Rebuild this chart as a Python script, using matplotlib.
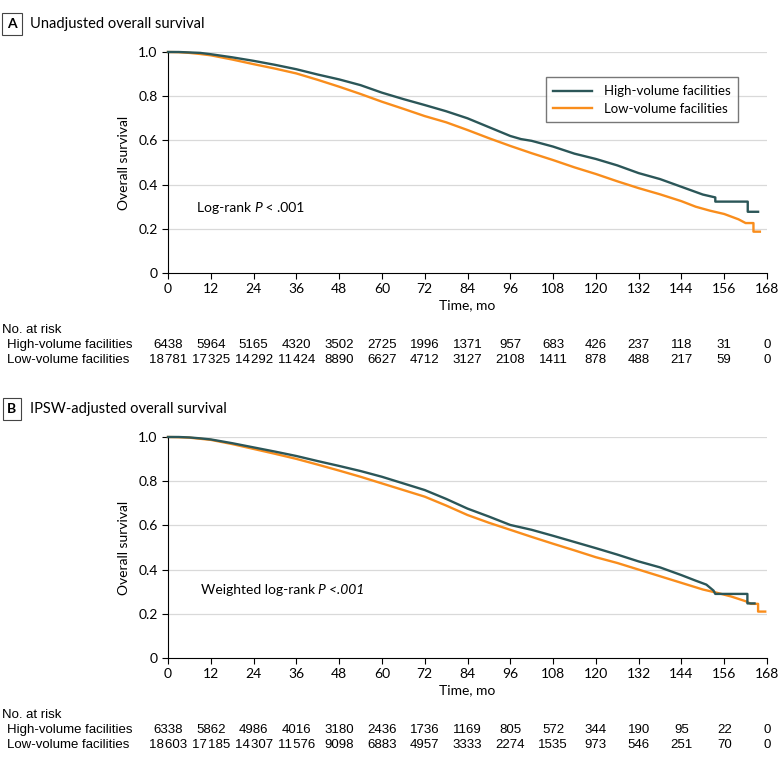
import matplotlib
matplotlib.use('Agg')
import matplotlib.pyplot as plt
from matplotlib.transforms import blended_transform_factory, offset_copy

plt.rcParams['font.family'] = ['Lato', 'DejaVu Sans']

# --- data ---
months = list(range(0, 169, 12))
series_names = ['High-volume facilities', 'Low-volume facilities']

# panel A, unadjusted KM curves
a_high_t = [0, 3, 6, 9, 12, 18, 24, 30, 36, 42, 48, 54, 60, 66, 72, 78, 84, 90, 96, 99, 102,
            108, 114, 120, 126, 132, 138, 144, 150, 153.5, 153.5, 162.6, 162.6, 165.5]
a_high_s = [1.0, 1.0, 0.998, 0.996, 0.99, 0.976, 0.96, 0.942, 0.922, 0.898, 0.876, 0.85, 0.816,
            0.787, 0.76, 0.732, 0.70, 0.66, 0.62, 0.606, 0.598, 0.572, 0.54, 0.516, 0.487, 0.452,
            0.425, 0.39, 0.355, 0.342, 0.323, 0.323, 0.277, 0.277]
a_low_t = [0, 3, 6, 9, 12, 18, 24, 30, 36, 42, 48, 54, 60, 66, 72, 78, 84, 90, 96, 102, 108,
           114, 120, 126, 132, 138, 144, 148, 152, 156, 160, 162, 164.2, 164.2, 166]
a_low_s = [1.0, 0.999, 0.996, 0.991, 0.985, 0.966, 0.945, 0.925, 0.903, 0.874, 0.843, 0.81,
           0.775, 0.743, 0.71, 0.682, 0.647, 0.61, 0.575, 0.542, 0.511, 0.478, 0.448, 0.415,
           0.384, 0.356, 0.325, 0.30, 0.282, 0.267, 0.243, 0.226, 0.226, 0.187, 0.187]

# panel B, IPSW-adjusted KM curves
b_high_t = [0, 3, 6, 9, 12, 18, 24, 30, 36, 42, 48, 54, 60, 66, 72, 78, 84, 90, 96, 102, 108,
            114, 120, 126, 132, 138, 144, 148, 151, 153, 153.5, 162.5, 162.5, 164.5]
b_high_s = [1.0, 1.0, 0.998, 0.994, 0.989, 0.972, 0.953, 0.934, 0.914, 0.891, 0.869, 0.846,
            0.82, 0.79, 0.76, 0.72, 0.676, 0.64, 0.602, 0.58, 0.553, 0.525, 0.497, 0.468, 0.437,
            0.41, 0.375, 0.35, 0.332, 0.305, 0.29, 0.29, 0.247, 0.247]
b_low_t = [0, 3, 6, 9, 12, 18, 24, 30, 36, 42, 48, 54, 60, 66, 72, 78, 84, 90, 96, 102, 108,
           114, 120, 126, 132, 138, 144, 150, 154, 158, 162, 163.5, 165.5, 165.5, 167.5]
b_low_s = [1.0, 0.999, 0.997, 0.992, 0.987, 0.968, 0.946, 0.924, 0.901, 0.875, 0.848, 0.82,
           0.79, 0.76, 0.73, 0.69, 0.647, 0.612, 0.58, 0.548, 0.517, 0.487, 0.456, 0.43, 0.40,
           0.37, 0.34, 0.31, 0.295, 0.278, 0.257, 0.245, 0.245, 0.21, 0.21]

# numbers at risk
a_risk_high = [6438, 5964, 5165, 4320, 3502, 2725, 1996, 1371, 957, 683, 426, 237, 118, 31, 0]
a_risk_low = [18781, 17325, 14292, 11424, 8890, 6627, 4712, 3127, 2108, 1411, 878, 488, 217, 59, 0]
b_risk_high = [6338, 5862, 4986, 4016, 3180, 2436, 1736, 1169, 805, 572, 344, 190, 95, 22, 0]
b_risk_low = [18603, 17185, 14307, 11576, 9098, 6883, 4957, 3333, 2274, 1535, 973, 546, 251, 70, 0]

HIGH_C = '#2b5658'
LOW_C = '#f98d1c'
TABLE_FONT = ['Liberation Sans', 'DejaVu Sans']


def fmt(n):
    s = str(n)
    if len(s) > 4:
        s = s[:-3] + '\u200a' + s[-3:]
    return s


fig = plt.figure(figsize=(7.8, 7.64), dpi=100)
W, H = 780.0, 764.0
renderer = fig.canvas.get_renderer()


def two_part_text(ax, x, y, plain, italic, rest=''):
    # plain text followed by an italic part (and optional plain rest)
    t1 = ax.text(x, y, plain, fontsize=10, va='center')
    w1 = t1.get_window_extent(renderer).width
    tr2 = offset_copy(ax.transData, fig=fig, x=w1, y=0, units='dots')
    t2 = ax.text(x, y, italic, fontsize=10, va='center', style='italic', transform=tr2)
    if rest:
        w2 = t2.get_window_extent(renderer).width
        tr3 = offset_copy(ax.transData, fig=fig, x=w1 + w2, y=0, units='dots')
        ax.text(x, y, rest, fontsize=10, va='center', transform=tr3)


def panel(top_px, letter, title, ht, hs, lt, ls, risk_h, risk_l, weighted, legend):
    bot_px = top_px + 221
    ax = fig.add_axes([168 / W, 1 - bot_px / H, 599 / W, 221 / H])
    ax.plot(ht, hs, color=HIGH_C, lw=1.7, label=series_names[0], clip_on=False, zorder=3)
    ax.plot(lt, ls, color=LOW_C, lw=1.7, label=series_names[1], clip_on=False, zorder=2)
    ax.set_xlim(0, 168)
    ax.set_ylim(0, 1)
    ax.set_xticks(months)
    ax.set_yticks([0, 0.2, 0.4, 0.6, 0.8, 1.0])
    ax.set_yticklabels(['0', '0.2', '0.4', '0.6', '0.8', '1.0'])
    for y in [0.2, 0.4, 0.6, 0.8, 1.0]:
        ax.axhline(y, color='#d9d9d9', lw=0.9, zorder=0)
    for sp in ['top', 'right']:
        ax.spines[sp].set_visible(False)
    ax.spines['left'].set_linewidth(0.8)
    ax.spines['bottom'].set_linewidth(0.8)
    ax.tick_params(direction='out', length=4, width=0.8, labelsize=10)
    ax.set_xlabel('Time, mo', fontsize=10, labelpad=3)
    ax.set_ylabel('Overall survival', fontsize=10, labelpad=6)
    if weighted:
        two_part_text(ax, 9.2, 0.308, 'Weighted log-rank ', 'P <.001')
    else:
        two_part_text(ax, 8, 0.295, 'Log-rank ', 'P', ' < .001')
    if legend:
        ax.legend(loc='upper right', bbox_to_anchor=(0.963, 0.915), fontsize=9.5,
                  frameon=True, fancybox=False, edgecolor='#555555', handlelength=2.9,
                  borderpad=0.6, labelspacing=0.4, handletextpad=0.9)

    # panel title with boxed letter
    ty = 1 - (top_px - 28) / H
    fig.text(12 / W, ty, letter, fontsize=10, fontweight='bold', ha='center', va='center',
             bbox=dict(boxstyle='square,pad=0.35', fc='white', ec='#444444', lw=0.8))
    fig.text(30 / W, ty, title, fontsize=10.5, va='center')

    # risk table
    tr = blended_transform_factory(ax.transData, fig.transFigure)
    y0 = 1 - (bot_px + 57) / H
    y1 = 1 - (bot_px + 72) / H
    y2 = 1 - (bot_px + 87) / H
    fig.text(2 / W, y0, 'No. at risk', fontsize=9.5, va='center', family=TABLE_FONT)
    fig.text(7 / W, y1, series_names[0], fontsize=9.5, va='center', family=TABLE_FONT)
    fig.text(7 / W, y2, series_names[1], fontsize=9.5, va='center', family=TABLE_FONT)
    for m, h, l in zip(months, risk_h, risk_l):
        ax.text(m, y1, fmt(h), transform=tr, fontsize=9.5, ha='center', va='center',
                family=TABLE_FONT)
        ax.text(m, y2, fmt(l), transform=tr, fontsize=9.5, ha='center', va='center',
                family=TABLE_FONT)
    return ax


panel(52, 'A', 'Unadjusted overall survival', a_high_t, a_high_s, a_low_t, a_low_s,
      a_risk_high, a_risk_low, False, True)
panel(437, 'B', 'IPSW-adjusted overall survival', b_high_t, b_high_s, b_low_t, b_low_s,
      b_risk_high, b_risk_low, True, False)

fig.savefig('out.png', dpi=100)
